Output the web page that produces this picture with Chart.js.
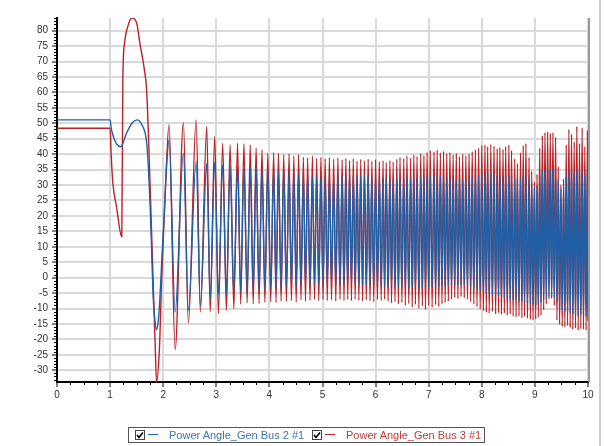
<!DOCTYPE html>
<html>
<head>
<meta charset="utf-8">
<script src="https://cdn.jsdelivr.net/npm/chart.js@4.4.1/dist/chart.umd.min.js"></script>
<style>
  body { margin: 0; background: #fff; }
  #wrap { position: relative; width: 605px; height: 446px; }
  #legend {
    position: absolute; left: 128px; top: 427px; width: 357px; height: 16px;
    box-sizing: border-box; border: 1px solid #555;
    font: 11px "Liberation Sans", Arial, sans-serif;
  }
  #legend .it { position: absolute; top: 0; height: 14px; line-height: 14px; white-space: nowrap; }
  #legend svg { position: absolute; top: 2px; }
</style>
</head>
<body>
<div id="wrap">
  <canvas id="myChart" width="605" height="446"></canvas>
  <div id="legend"></div>
</div>
<script>
const seriesNames = ['Power Angle_Gen Bus 2 #1', 'Power Angle_Gen Bus 3 #1'];
const xTicks = [0, 1, 2, 3, 4, 5, 6, 7, 8, 9, 10];
const yTicks = [-30, -25, -20, -15, -10, -5, 0, 5, 10, 15, 20, 25, 30, 35, 40, 45, 50, 55, 60, 65, 70, 75, 80];

// first swing, read point by point
const blueLeadT = [0, 1.0, 1.02, 1.06, 1.12, 1.20, 1.31, 1.41, 1.51, 1.60, 1.66, 1.69, 1.72, 1.75, 1.78, 1.81, 1.845, 1.875, 1.91, 1.94, 1.98, 2.02, 2.06];
const blueLeadV = [51.1, 51.1, 48.5, 45.8, 43.3, 42.4, 46.8, 50.0, 51.1, 49.5, 46.8, 43.6, 36.0, 25.0, 10.0, -6.0, -14.0, -16.9, -13.5, -6.0, 8.0, 20.8, 35.0];
const redLeadT = [0, 1.0, 1.02, 1.05, 1.12, 1.22, 1.24, 1.27, 1.32, 1.41, 1.50, 1.56, 1.64, 1.69, 1.74, 1.78, 1.82, 1.85, 1.875, 1.93, 1.97, 2.035];
const redLeadV = [48.4, 48.4, 40.0, 31.0, 23.0, 13.2, 64.0, 75.7, 80.5, 84.1, 82.5, 76.0, 68.0, 60.0, 37.0, 15.4, -6.3, -22.5, -33.8, -22.5, -0.8, 26.2];

// later oscillation: times of each peak / trough, then the value of each series there
const swingT = [
  2.11, 2.225, 2.38, 2.475, 2.62, 2.70, 2.82, 2.885, 2.97, 3.04,
  3.12, 3.19, 3.26, 3.33, 3.40, 3.46, 3.52, 3.58, 3.64, 3.695,
  3.75, 3.805, 3.86, 3.915, 3.97, 4.025, 4.08, 4.125, 4.17, 4.22,
  4.27, 4.32, 4.37, 4.415, 4.46, 4.505, 4.55, 4.595, 4.64, 4.68,
  4.72, 4.765, 4.81, 4.85, 4.89, 4.93, 4.97, 5.01, 5.05, 5.09,
  5.13, 5.17, 5.21, 5.25, 5.29, 5.33, 5.37, 5.405, 5.44, 5.475,
  5.51, 5.545, 5.58, 5.615, 5.65, 5.685, 5.72, 5.755, 5.79, 5.825,
  5.86, 5.895, 5.93, 5.965, 6.00, 6.035, 6.07, 6.105, 6.14, 6.17,
  6.20, 6.235, 6.27, 6.30, 6.33, 6.365, 6.40, 6.43, 6.46, 6.495,
  6.53, 6.56, 6.59, 6.625, 6.66, 6.69, 6.72, 6.75, 6.78, 6.815,
  6.85, 6.88, 6.91, 6.94, 6.97, 7.00, 7.03, 7.065, 7.10, 7.13,
  7.16, 7.19, 7.22, 7.25, 7.28, 7.31, 7.34, 7.37, 7.40, 7.43,
  7.46, 7.49, 7.52, 7.55, 7.58, 7.61, 7.64, 7.67, 7.70, 7.73,
  7.76, 7.79, 7.82, 7.85, 7.88, 7.91, 7.94, 7.97, 8.00, 8.03,
  8.06, 8.085, 8.11, 8.14, 8.17, 8.20, 8.23, 8.26, 8.29, 8.315,
  8.34, 8.37, 8.40, 8.425, 8.45, 8.48, 8.51, 8.535, 8.56, 8.59,
  8.62, 8.645, 8.67, 8.70, 8.73, 8.755, 8.78, 8.805, 8.83, 8.86,
  8.89, 8.915, 8.94, 8.965, 8.99, 9.015, 9.04, 9.065, 9.09, 9.115,
  9.14, 9.165, 9.19, 9.215, 9.24, 9.265, 9.29, 9.315, 9.34, 9.365,
  9.39, 9.415, 9.44, 9.465, 9.49, 9.515, 9.54, 9.565, 9.59, 9.615,
  9.64, 9.665, 9.69, 9.715, 9.74, 9.765, 9.79, 9.815, 9.84, 9.865,
  9.89, 9.915, 9.94, 9.965, 9.99, 10.0
];
const blueSwing = [
  44.6, -11.1, 40.3, -10.6, 37.6, -9.0, 37.0, -6.8, 37.3, -5.5,
  36.5, -5.2, 36.0, -4.8, 36.0, -4.6, 35.6, -4.3, 35.5, -4.0,
  35.4, -3.8, 35.2, -3.6, 35.0, -3.4, 34.8, -3.2, 34.5, -3.0,
  34.3, -2.8, 34.0, -2.6, 33.8, -2.5, 33.5, -2.4, 33.2, -2.3,
  33.0, -2.2, 32.7, -2.1, 32.5, -2.0, 32.4, -2.0, 32.4, -2.1,
  32.5, -2.2, 32.7, -2.3, 32.9, -2.2, 33.0, -2.1, 33.1, -2.0,
  33.2, -2.0, 33.0, -2.2, 33.1, -2.1, 32.9, -2.3, 33.0, -2.4,
  32.8, -2.5, 32.9, -2.6, 32.7, -2.7, 32.6, -2.8, 32.4, -3.0,
  32.2, -3.1, 32.0, -3.2, 31.9, -3.0, 32.0, -2.9, 32.2, -3.1,
  32.3, -3.3, 32.4, -3.5, 32.3, -3.2, 32.2, -3.6, 32.4, -3.3,
  32.6, -3.4, 32.8, -3.1, 33.0, -3.2, 33.2, -3.0, 33.3, -3.2,
  33.2, -3.0, 33.1, -2.8, 32.9, -2.7, 32.6, -2.6, 32.3, -2.5,
  32.0, -2.4, 31.8, -2.3, 31.7, -2.4, 31.8, -2.5, 31.9, -2.7,
  32.1, -3.0, 32.4, -3.4, 32.8, -3.8, 33.2, -4.2, 33.5, -4.6,
  33.7, -5.0, 33.8, -5.3, 33.6, -5.6, 33.4, -5.8, 33.2, -6.0,
  33.0, -6.2, 32.9, -6.5, 33.1, -6.8, 33.3, -7.0, 33.0, -7.2,
  32.2, -7.4, 31.6, -7.6, 32.4, -7.8, 33.2, -8.0, 33.5, -8.3,
  32.0, -8.5, 30.5, -8.8, 29.2, -9.0, 29.8, -8.6, 33.0, -8.0,
  34.5, -7.4, 35.0, -6.8, 35.2, -6.2, 35.0, -6.0, 35.1, -6.6,
  34.6, -8.0, 31.5, -9.5, 28.8, -10.6, 29.5, -11.0, 32.8, -11.2,
  34.5, -11.4, 35.0, -11.8, 33.8, -12.0, 34.8, -12.4, 33.5, -12.0,
  34.2, -12.2, 33.0, -12.5, 34.8, -11.0
];
const redSwing = [
  49.5, -23.3, 50.2, -14.7, 51.1, -11.1, 48.9, -11.1, 45.7, -11.7,
  43.5, -10.6, 43.0, -10.0, 43.5, -8.6, 43.4, -8.2, 43.0, -8.5,
  42.0, -8.4, 41.4, -8.0, 40.3, -7.8, 40.5, -8.1, 40.2, -7.6,
  39.8, -7.7, 40.1, -7.4, 39.4, -7.9, 39.9, -7.2, 39.0, -7.6,
  38.8, -7.3, 39.4, -7.0, 38.6, -7.5, 39.0, -7.1, 38.5, -7.4,
  38.9, -7.2, 38.4, -7.6, 38.8, -7.0, 38.2, -7.4, 38.6, -7.1,
  38.0, -7.5, 38.5, -7.0, 37.8, -7.3, 38.3, -7.6, 37.9, -7.2,
  38.4, -7.5, 37.7, -7.8, 38.2, -7.1, 37.6, -7.4, 37.9, -7.0,
  37.3, -7.6, 38.0, -8.2, 37.5, -7.8, 38.4, -8.5, 39.0, -8.0,
  38.6, -9.0, 39.5, -8.4, 38.8, -9.6, 39.8, -8.7, 39.2, -10.0,
  40.2, -9.2, 39.6, -10.3, 40.6, -9.0, 41.2, -9.6, 40.8, -8.8,
  41.4, -9.3, 40.5, -8.5, 41.0, -8.0, 40.2, -7.6, 40.6, -7.0,
  39.8, -6.4, 40.3, -6.8, 39.2, -6.2, 40.0, -6.6, 39.5, -7.0,
  40.1, -7.8, 40.8, -8.6, 41.5, -9.4, 42.0, -10.2, 42.8, -10.8,
  43.0, -11.2, 42.4, -11.6, 43.2, -11.0, 42.6, -11.8, 41.8, -11.4,
  42.2, -12.0, 41.6, -11.5, 42.5, -12.2, 43.0, -11.8, 41.2, -12.5,
  38.5, -12.8, 37.0, -12.4, 40.5, -13.0, 42.8, -12.6, 43.5, -13.2,
  39.0, -13.5, 34.5, -13.8, 31.0, -13.4, 33.5, -12.8, 42.0, -12.2,
  46.0, -10.5, 47.0, -8.5, 47.2, -7.0, 46.8, -6.8, 47.0, -9.0,
  45.5, -13.8, 36.0, -15.2, 30.0, -15.8, 32.0, -16.0, 43.0, -15.6,
  48.0, -16.2, 46.5, -16.8, 44.0, -16.4, 49.0, -17.0, 43.5, -16.6,
  48.5, -16.8, 42.5, -17.0, 47.5, -14.0
];

const blueColor = 'rgb(35, 95, 165)';
const redColor = 'rgb(185, 35, 40)';
const fontFamily = '"Liberation Sans", Arial, sans-serif';

const toPoints = (ts, vs) => ts.map((t, i) => ({ x: t, y: vs[i] })).filter(p => p.y !== undefined);
const blueData = toPoints(blueLeadT, blueLeadV).concat(toPoints(swingT, blueSwing));
const redData = toPoints(redLeadT, redLeadV).concat(toPoints(swingT, redSwing));

// minor ticks, right border and window edge
const extras = {
  id: 'extras',
  afterDraw(chart) {
    const { ctx, chartArea, scales } = chart;
    ctx.save();
    ctx.strokeStyle = '#000';
    ctx.lineWidth = 1;
    ctx.beginPath();
    for (let v = -33; v <= 84; v++) {
      if (v % 5 === 0) continue;
      const y = Math.round(scales.y.getPixelForValue(v)) + 0.5;
      ctx.moveTo(chartArea.left - 3, y);
      ctx.lineTo(chartArea.left, y);
    }
    for (let k = 1; k < 40; k++) {
      if (k % 4 === 0) continue;
      const x = Math.round(scales.x.getPixelForValue(k / 4)) + 0.5;
      ctx.moveTo(x, chartArea.bottom);
      ctx.lineTo(x, chartArea.bottom + 3);
    }
    ctx.stroke();
    ctx.strokeStyle = '#9a9a9a';
    ctx.lineWidth = 2;
    ctx.beginPath();
    ctx.moveTo(chartArea.right + 1, chartArea.top);
    ctx.lineTo(chartArea.right + 1, chartArea.bottom);
    ctx.stroke();
    ctx.strokeStyle = '#cfcfcf';
    ctx.beginPath();
    ctx.moveTo(600, 0);
    ctx.lineTo(600, 446);
    ctx.stroke();
    ctx.restore();
  },
};

const ctx = document.getElementById('myChart').getContext('2d');
const myChart = new Chart(ctx, {
  type: 'line',
  data: {
    datasets: [
      { label: seriesNames[0], data: blueData, borderColor: blueColor, borderWidth: 1.4, pointRadius: 0, cubicInterpolationMode: 'monotone' },
      { label: seriesNames[1], data: redData, borderColor: redColor, borderWidth: 1.4, pointRadius: 0, cubicInterpolationMode: 'monotone' },
    ],
  },
  options: {
    responsive: false,
    animation: false,
    events: [],
    layout: { padding: { top: 18, right: 17, left: 0, bottom: 0 } },
    plugins: { legend: { display: false }, tooltip: { enabled: false } },
    scales: {
      x: {
        type: 'linear',
        min: 0,
        max: 10,
        afterBuildTicks: s => { s.ticks = xTicks.map(v => ({ value: v })); },
        afterFit: s => { s.height = 64; },
        grid: { color: '#d9d9d9', lineWidth: 2, tickColor: '#000', tickWidth: 1, tickLength: 5 },
        border: { color: '#000', width: 2 },
        ticks: { color: '#333', font: { family: fontFamily, size: 10 }, padding: 2, maxRotation: 0 },
      },
      y: {
        type: 'linear',
        min: -33.8,
        max: 84.1,
        afterBuildTicks: s => { s.ticks = yTicks.map(v => ({ value: v })); },
        afterFit: s => { s.width = 57; },
        grid: { color: '#d9d9d9', lineWidth: 2, tickColor: '#000', tickWidth: 1, tickLength: 5 },
        border: { color: '#000', width: 2 },
        ticks: { color: '#333', font: { family: fontFamily, size: 10 }, padding: 4 },
      },
    },
  },
  plugins: [extras],
});

// legend with check boxes
const legend = document.getElementById('legend');
const checkSvg = '<svg width="10" height="10" viewBox="0 0 10 10"><rect x="0.5" y="0.5" width="9" height="9" fill="#fff" stroke="#444"/><polyline points="2,5 4,7.5 8,2.5" fill="none" stroke="#000" stroke-width="1.6"/></svg>';
const items = [
  { box: 6, line: 19, text: 40, color: blueColor, textColor: 'rgb(60, 115, 180)' },
  { box: 183, line: 196, text: 217, color: redColor, textColor: 'rgb(190, 60, 60)' },
];
items.forEach((it, i) => {
  const box = document.createElement('div');
  box.innerHTML = checkSvg;
  box.firstChild.style.left = it.box + 'px';
  legend.appendChild(box.firstChild);
  const line = document.createElement('div');
  line.style.cssText = `position:absolute;left:${it.line}px;top:6px;width:10px;height:1px;background:${it.color}`;
  legend.appendChild(line);
  const label = document.createElement('span');
  label.className = 'it';
  label.style.left = it.text + 'px';
  label.style.color = it.textColor;
  label.textContent = seriesNames[i];
  legend.appendChild(label);
});
</script>
</body>
</html>
